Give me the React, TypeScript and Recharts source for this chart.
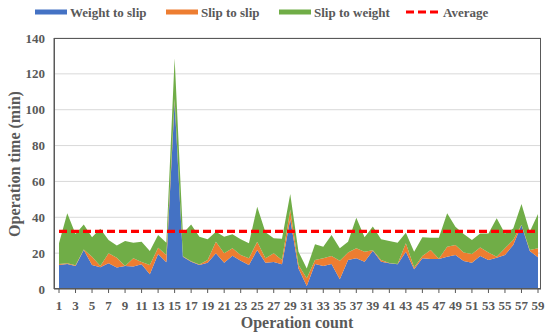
import React from 'react';
import {
  AreaChart, Area, XAxis, YAxis, CartesianGrid, ReferenceLine, Label
} from 'recharts';

const FONT = 'Liberation Serif';
const TEXT = '#595959';
const BLUE = '#4472C4';
const ORANGE = '#ED7D31';
const GREEN = '#70AD47';

const operationCount = [
  '1', '2', '3', '4', '5', '6', '7', '8', '9', '10',
  '11', '12', '13', '14', '15', '16', '17', '18', '19', '20',
  '21', '22', '23', '24', '25', '26', '27', '28', '29', '30',
  '31', '32', '33', '34', '35', '36', '37', '38', '39', '40',
  '41', '42', '43', '44', '45', '46', '47', '48', '49', '50',
  '51', '52', '53', '54', '55', '56', '57', '58', '59',
];

const weightToSlip = [
  13.4, 14.0, 12.8, 21.7, 13.4, 12.1, 14.3, 12.0, 12.8, 12.5,
  13.8, 8.2, 19.5, 14.9, 104.5, 18.0, 15.2, 13.4, 14.7, 19.9,
  14.7, 18.6, 15.8, 13.4, 21.7, 14.7, 15.0, 13.8, 38.9, 11.5,
  1.7, 13.9, 12.8, 14.0, 5.4, 16.2, 17.1, 15.2, 21.4, 15.2,
  14.3, 13.8, 20.8, 11.0, 17.1, 16.7, 16.7, 18.0, 19.0, 15.6,
  14.7, 18.4, 16.2, 17.5, 19.0, 24.5, 35.7, 21.2, 17.7,
];

const slipToSlip = [
  0.6, 0.3, 0.4, 0.3, 4.6, 0.7, 5.6, 5.5, 0.0, 4.6,
  1.2, 5.2, 3.5, 4.1, 1.5, 0.2, 0.3, 0.2, 1.5, 6.5,
  5.2, 4.1, 3.2, 3.7, 4.7, 2.4, 4.9, 2.4, 5.5, 1.9,
  4.3, 2.3, 4.3, 4.4, 10.4, 4.1, 5.6, 5.6, 0.2, 1.0,
  0.2, 0.2, 4.7, 1.0, 1.3, 5.0, 0.2, 5.6, 5.5, 4.7,
  4.8, 4.8, 4.1, 0.5, 3.7, 2.8, 0.2, 0.5, 5.0,
];

const slipToWeight = [
  11.5, 27.9, 17.5, 14.0, 10.8, 20.8, 7.4, 6.7, 14.0, 8.7,
  11.3, 7.8, 7.1, 6.8, 22.7, 12.8, 20.5, 15.6, 11.5, 5.6,
  9.3, 7.8, 8.7, 8.4, 19.5, 14.5, 8.4, 11.8, 8.6, 7.4,
  5.5, 8.7, 6.5, 11.7, 6.9, 6.1, 17.1, 8.0, 13.3, 11.5,
  12.3, 11.8, 5.9, 8.8, 10.4, 6.9, 11.7, 18.6, 10.2, 10.4,
  7.8, 7.8, 10.7, 21.4, 8.3, 6.5, 11.5, 10.3, 19.1,
];

const AVERAGE = 32.1;
const yTicks = [0, 20, 40, 60, 80, 100, 120, 140];

const data = operationCount.map((name, i) => ({
  name,
  weightToSlip: weightToSlip[i],
  slipToSlip: slipToSlip[i],
  slipToWeight: slipToWeight[i],
}));

// legend entries, x = left edge of the swatch
const legendItems = [
  { label: 'Weight to slip', color: BLUE, dashed: false, x: 35 },
  { label: 'Slip to slip', color: ORANGE, dashed: false, x: 166 },
  { label: 'Slip to weight', color: GREEN, dashed: false, x: 279 },
  { label: 'Average', color: '#FF0000', dashed: true, x: 406 },
];

function ChartLegend() {
  return (
    <svg width={550} height={28} style={{ position: 'absolute', left: 0, top: 0 }}>
      {legendItems.map(item => (
        <g key={item.label}>
          {item.dashed ? (
            <line x1={item.x} y1={12} x2={item.x + 32} y2={12} stroke={item.color} strokeWidth={3} strokeDasharray="8 4" />
          ) : (
            <rect x={item.x} y={9.5} width={32} height={5} fill={item.color} />
          )}
          <text x={item.x + (item.dashed ? 37 : 35)} y={16.5} fontFamily={FONT} fontWeight="bold" fontSize={13} fill={TEXT}>
            {item.label}
          </text>
        </g>
      ))}
    </svg>
  );
}

function XTick({ x, y, payload }) {
  return (
    <text x={x} y={y + 11} textAnchor="middle" fontFamily={FONT} fontWeight="bold" fontSize={13} fill={TEXT}>
      {payload.value}
    </text>
  );
}

function YTick({ x, y, payload }) {
  return (
    <text x={x} y={y + 4.5} textAnchor="end" fontFamily={FONT} fontWeight="bold" fontSize={13} fill={TEXT}>
      {payload.value}
    </text>
  );
}

export default function App() {
  return (
    <div style={{ position: 'absolute', left: 0, top: 0, width: 550, height: 335, background: '#fff' }}>
      <ChartLegend />
      <AreaChart width={550} height={335} data={data} margin={{ top: 38, right: 9, left: 0, bottom: 16 }}>
        <CartesianGrid vertical={false} stroke="#D9D9D9" />
        <XAxis
          dataKey="name"
          interval={1}
          padding={{ left: 5, right: 3 }}
          tick={<XTick />}
          tickSize={4}
          tickMargin={6}
          height={30}
          stroke="#595959"
        >
          <Label
            content={() => (
              <text x={297} y={328} textAnchor="middle" fontFamily={FONT} fontWeight="bold" fontSize={16} fill={TEXT}>
                Operation count
              </text>
            )}
          />
        </XAxis>
        <YAxis
          domain={[0, 140]}
          ticks={yTicks}
          width={54}
          tick={<YTick />}
          tickSize={0}
          tickMargin={9}
          stroke="#595959"
        >
          <Label
            content={() => (
              <text x={20} y={164} transform="rotate(-90 20 164)" textAnchor="middle" fontFamily={FONT} fontWeight="bold" fontSize={16} fill={TEXT}>
                Operation time (min)
              </text>
            )}
          />
        </YAxis>
        <Area type="linear" dataKey="weightToSlip" stackId="1" fill={BLUE} fillOpacity={1} stroke="none" dot={false} activeDot={false} isAnimationActive={false} />
        <Area type="linear" dataKey="slipToSlip" stackId="1" fill={ORANGE} fillOpacity={1} stroke="none" dot={false} activeDot={false} isAnimationActive={false} />
        <Area type="linear" dataKey="slipToWeight" stackId="1" fill={GREEN} fillOpacity={1} stroke="none" dot={false} activeDot={false} isAnimationActive={false} />
        <ReferenceLine
          segment={[{ x: '1', y: AVERAGE }, { x: '59', y: AVERAGE }]}
          stroke="#FF0000"
          strokeWidth={3.3}
          strokeDasharray="8 4"
        />
      </AreaChart>
      {/* plot frame */}
      <div style={{ position: 'absolute', left: 54, top: 38, width: 487, height: 251, border: '1px solid #595959', boxSizing: 'border-box', pointerEvents: 'none' }} />
    </div>
  );
}
